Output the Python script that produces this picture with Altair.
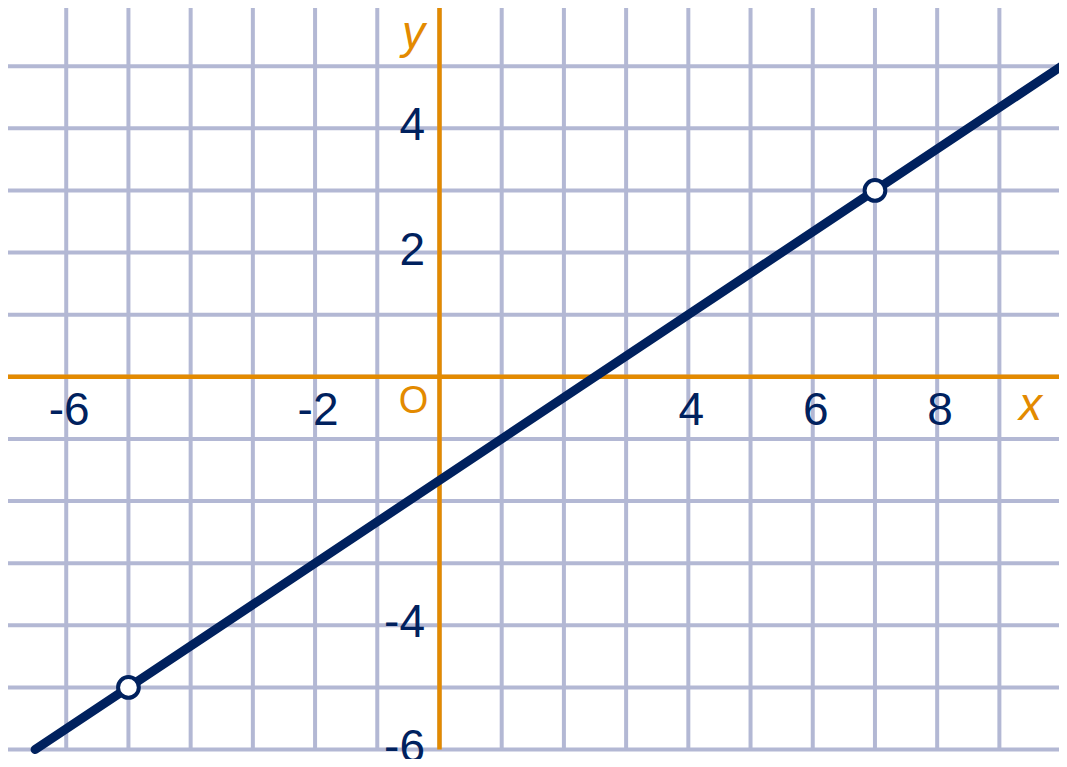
import altair as alt
import pandas as pd

# ---- data ----
grid_x = list(range(-7, 11))
grid_y = list(range(-6, 7))
line_x = [-6.5, 10]
line_y = [-6, 5]
point_x = [-5, 7]
point_y = [-5, 3]
xtick_labels = [-6, -2, 4, 6, 8]
ytick_labels = [4, 2, -4, -6]

NAVY = "#00215e"
ORANGE = "#e38a00"
GRID = "#b3b8d4"
FONT = "Liberation Sans"

W, H = 1051, 747
PX = 62.21
PY = 62.125
xmin = -6.936
xmax = xmin + W / PX
ymax = 5.936
ymin = ymax - H / PY

xs = alt.Scale(domain=[xmin, xmax], nice=False, zero=False)
ys = alt.Scale(domain=[ymin, ymax], nice=False, zero=False)

def X(f):
    return alt.X(f, type="quantitative", scale=xs, axis=None)

def Y(f):
    return alt.Y(f, type="quantitative", scale=ys, axis=None)

vgrid_df = pd.DataFrame({"x": grid_x, "y": [min(grid_y)] * len(grid_x), "y2": [max(grid_y)] * len(grid_x)})
hgrid_df = pd.DataFrame({"y": grid_y, "x": [min(grid_x)] * len(grid_y), "x2": [max(grid_x)] * len(grid_y)})
line_df = pd.DataFrame({"x": line_x, "y": line_y})
pt_df = pd.DataFrame({"x": point_x, "y": point_y})
xl_df = pd.DataFrame({"x": xtick_labels, "y": [0] * len(xtick_labels), "t": [str(v) for v in xtick_labels]})
yl_df = pd.DataFrame({"y": ytick_labels, "x": [0] * len(ytick_labels), "t": [str(v) for v in ytick_labels]})
axes_v = pd.DataFrame({"x": [0], "y": [min(grid_y)], "y2": [max(grid_y)]})
axes_h = pd.DataFrame({"y": [0], "x": [min(grid_x)], "x2": [max(grid_x)]})

vgrid = alt.Chart(vgrid_df).mark_rule(color=GRID, strokeWidth=4).encode(
    x=X("x"), y=Y("y"), y2="y2")
hgrid = alt.Chart(hgrid_df).mark_rule(color=GRID, strokeWidth=4).encode(
    y=Y("y"), x=X("x"), x2="x2")
yaxis = alt.Chart(axes_v).mark_rule(color=ORANGE, strokeWidth=4.5).encode(
    x=X("x"), y=Y("y"), y2="y2")
xaxis = alt.Chart(axes_h).mark_rule(color=ORANGE, strokeWidth=4.5).encode(
    y=Y("y"), x=X("x"), x2="x2")

line = alt.Chart(line_df).mark_line(color=NAVY, strokeWidth=9, strokeCap="round").encode(
    x=X("x"), y=Y("y"))
pts = alt.Chart(pt_df).mark_point(shape="circle", filled=False, fill="white", stroke=NAVY,
                                  strokeWidth=4, size=430, opacity=1, fillOpacity=1).encode(
    x=X("x"), y=Y("y"))

xlab = alt.Chart(xl_df).mark_text(font=FONT, fontSize=46, color=NAVY, align="center",
                                  baseline="alphabetic", dx=3, dy=48).encode(
    x=X("x"), y=Y("y"), text="t:N")
ylab = alt.Chart(yl_df).mark_text(font=FONT, fontSize=46, color=NAVY, align="right",
                                  baseline="middle", dx=-14.5, dy=-2).encode(
    x=X("x"), y=Y("y"), text="t:N")

ann_df = pd.DataFrame({"x": [0, 10, 0], "y": [0, 0, 6], "t": ["O", "x", "y"]})
o_lab = alt.Chart(ann_df).transform_filter(alt.datum.t == "O").mark_text(
    font=FONT, fontSize=38, color=ORANGE, align="center", baseline="middle", dx=-26, dy=25).encode(
    x=X("x"), y=Y("y"), text="t:N")
x_lab = alt.Chart(ann_df).transform_filter(alt.datum.t == "x").mark_text(
    font=FONT, fontSize=46, fontStyle="italic", color=ORANGE, align="center",
    baseline="alphabetic", dx=-31, dy=43).encode(
    x=X("x"), y=Y("y"), text="t:N")
y_lab = alt.Chart(ann_df).transform_filter(alt.datum.t == "y").mark_text(
    font=FONT, fontSize=46, fontStyle="italic", color=ORANGE, align="center",
    baseline="alphabetic", dx=-26, dy=44).encode(
    x=X("x"), y=Y("y"), text="t:N")

chart = alt.layer(vgrid, hgrid, xaxis, yaxis, xlab, ylab, o_lab, x_lab, y_lab, line, pts).properties(
    width=W, height=H, padding={"left": 0, "top": 0, "right": 0, "bottom": 4},
    autosize=alt.AutoSizeParams(type="none"),
    background="white"
).configure_view(stroke=None)

chart.save("out.html", embed_options={"renderer": "svg", "actions": False})
